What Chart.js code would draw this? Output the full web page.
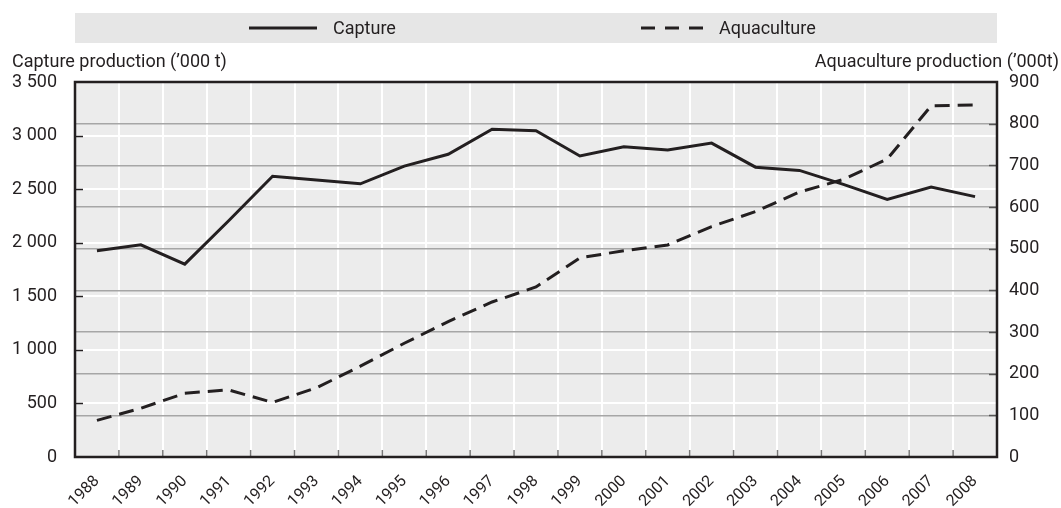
<!DOCTYPE html>
<html>
<head>
<meta charset="utf-8">
<script src="https://cdn.jsdelivr.net/npm/chart.js@4.4.1/dist/chart.umd.min.js"></script>
<style>
  html, body { margin: 0; padding: 0; background: #ffffff; }
  canvas { display: block; }
</style>
</head>
<body>
<canvas id="chart" width="1061" height="508"></canvas>
<script>
// Production series, thousand tonnes
const years = ['1988','1989','1990','1991','1992','1993','1994','1995','1996','1997','1998',
               '1999','2000','2001','2002','2003','2004','2005','2006','2007','2008'];
const capture = [1925, 1980, 1800, 2205, 2620, 2585, 2550, 2715, 2825, 3060, 3045,
                 2810, 2895, 2865, 2930, 2705, 2675, 2545, 2405, 2520, 2430];
const aquaculture = [88, 117, 153, 161, 131, 166, 218, 273, 325, 372, 408,
                     478, 495, 509, 553, 589, 636, 666, 715, 843, 845];

const seriesNames = ['Capture', 'Aquaculture'];
const axisTitles = ['Capture production (\u2019000 t)', 'Aquaculture production (\u2019000t)'];

// Axis ticks
const captureTicks = [0, 500, 1000, 1500, 2000, 2500, 3000, 3500];
const captureTickLabels = ['0', '500', '1 000', '1 500', '2 000', '2 500', '3 000', '3 500'];
const aquaTicks = [0, 100, 200, 300, 400, 500, 600, 700, 800, 900];
const aquaTickLabels = ['0', '100', '200', '300', '400', '500', '600', '700', '800', '900'];

const FONT = "Roboto, 'Liberation Sans', sans-serif";
const INK = '#231f20';
const DASH = [15, 8];

// Panel background, inner tick marks, frame, legend band and axis titles
const decorations = {
  id: 'decorations',
  beforeDraw(chart) {
    const { ctx, chartArea: a } = chart;
    ctx.save();
    ctx.fillStyle = '#e6e6e6';
    ctx.fillRect(a.left, 13, a.right - a.left, 30);
    ctx.fillStyle = '#ececec';
    ctx.fillRect(a.left, a.top, a.right - a.left, a.bottom - a.top);
    ctx.restore();
  },
  afterDatasetsDraw(chart) {
    const { ctx, chartArea: a, scales } = chart;
    ctx.save();
    ctx.lineWidth = 1.5;
    // left axis ticks
    ctx.strokeStyle = INK;
    scales.y.ticks.forEach(t => {
      if (t.value <= scales.y.min || t.value >= scales.y.max) return;
      const py = Math.round(scales.y.getPixelForValue(t.value)) + 0.5;
      ctx.beginPath(); ctx.moveTo(a.left, py); ctx.lineTo(a.left + 8, py); ctx.stroke();
    });
    // right axis ticks
    ctx.strokeStyle = '#555555';
    scales.y1.ticks.forEach(t => {
      if (t.value <= scales.y1.min || t.value >= scales.y1.max) return;
      const py = Math.round(scales.y1.getPixelForValue(t.value)) + 0.5;
      ctx.beginPath(); ctx.moveTo(a.right - 8, py); ctx.lineTo(a.right, py); ctx.stroke();
    });
    // category boundary ticks on the bottom axis
    ctx.strokeStyle = '#777777';
    for (let i = 1; i < years.length; i++) {
      const px = (scales.x.getPixelForValue(i - 1) + scales.x.getPixelForValue(i)) / 2;
      ctx.beginPath(); ctx.moveTo(px, a.bottom); ctx.lineTo(px, a.bottom - 7); ctx.stroke();
    }
    // frame
    ctx.strokeStyle = INK;
    ctx.lineWidth = 2.5;
    ctx.strokeRect(a.left, a.top, a.right - a.left, a.bottom - a.top);
    ctx.restore();
  },
  afterDraw(chart) {
    const { ctx } = chart;
    ctx.save();
    ctx.fillStyle = INK;
    ctx.font = '18px ' + FONT;
    ctx.textBaseline = 'alphabetic';
    ctx.textAlign = 'left';
    ctx.fillText(axisTitles[0], 12, 67);
    ctx.textAlign = 'right';
    ctx.fillText(axisTitles[1], 1059, 67);

    // legend
    const sampleX = [249, 641];
    const sampleW = [68, 62];
    ctx.textAlign = 'left';
    ctx.textBaseline = 'middle';
    chart.data.datasets.forEach((ds, i) => {
      ctx.strokeStyle = ds.borderColor;
      ctx.lineWidth = 3;
      ctx.setLineDash(i === 0 ? [] : [14, 10]);
      ctx.beginPath();
      ctx.moveTo(sampleX[i], 28);
      ctx.lineTo(sampleX[i] + sampleW[i], 28);
      ctx.stroke();
      ctx.setLineDash([]);
      ctx.fillText(ds.label, sampleX[i] + sampleW[i] + 16, 29);
    });
    ctx.restore();
  }
};

new Chart(document.getElementById('chart'), {
  type: 'line',
  data: {
    labels: years,
    datasets: [
      {
        label: seriesNames[0],
        data: capture,
        yAxisID: 'y',
        borderColor: INK,
        borderWidth: 3,
        borderJoinStyle: 'miter',
        pointRadius: 0,
        tension: 0,
        fill: false
      },
      {
        label: seriesNames[1],
        data: aquaculture,
        yAxisID: 'y1',
        borderColor: INK,
        borderWidth: 3,
        borderDash: DASH,
        borderJoinStyle: 'miter',
        pointRadius: 0,
        tension: 0,
        fill: false
      }
    ]
  },
  options: {
    responsive: false,
    animation: false,
    devicePixelRatio: 1,
    layout: { padding: { top: 82, left: 0, right: 0, bottom: 0 } },
    plugins: {
      legend: { display: false },
      title: { display: false },
      tooltip: { enabled: false }
    },
    scales: {
      x: {
        type: 'category',
        offset: true,
        grid: { offset: true, color: '#ffffff', lineWidth: 2, drawTicks: false },
        border: { display: false },
        ticks: {
          color: INK,
          font: { family: FONT, size: 16 },
          minRotation: 45,
          maxRotation: 45,
          autoSkip: false,
          padding: 15
        },
        afterFit(s) { s.height = 51; }
      },
      y: {
        position: 'left',
        min: 0,
        max: 3500,
        grid: { color: '#ffffff', lineWidth: 2, drawTicks: false },
        border: { display: false },
        afterBuildTicks(s) { s.ticks = captureTicks.map(v => ({ value: v })); },
        ticks: {
          color: INK,
          font: { family: FONT, size: 18 },
          padding: 18,
          callback: v => captureTickLabels[captureTicks.indexOf(v)]
        },
        afterFit(s) { s.width = 75; }
      },
      y1: {
        position: 'right',
        min: 0,
        max: 900,
        grid: { color: '#a6a6a6', lineWidth: 1.5, drawTicks: false },
        border: { display: false },
        afterBuildTicks(s) { s.ticks = aquaTicks.map(v => ({ value: v })); },
        ticks: {
          color: INK,
          font: { family: FONT, size: 18 },
          padding: 12,
          callback: v => aquaTickLabels[aquaTicks.indexOf(v)]
        },
        afterFit(s) { s.width = 64; }
      }
    }
  },
  plugins: [decorations]
});
</script>
</body>
</html>
